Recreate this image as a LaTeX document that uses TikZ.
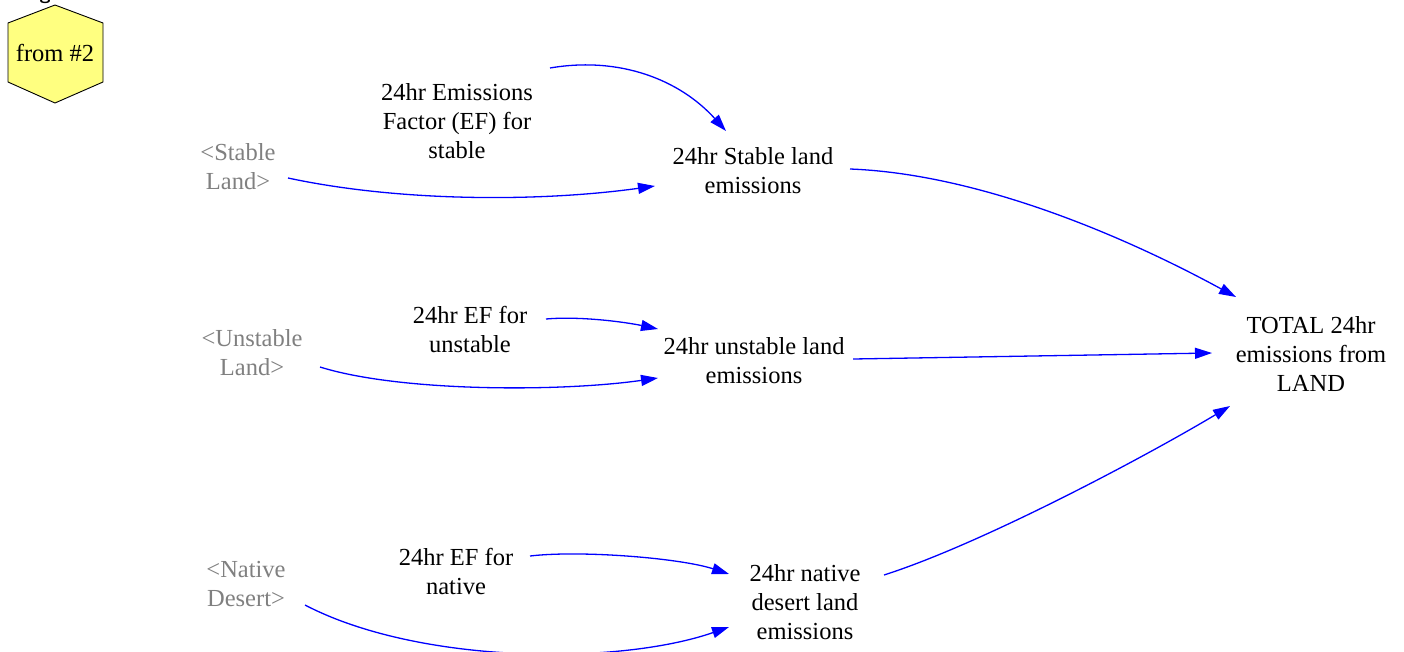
\documentclass[tikz,border=0pt]{standalone}
\usepackage{fontspec}
\setmainfont{Liberation Serif}
\usetikzlibrary{arrows.meta,calc}
\definecolor{linkblue}{RGB}{0,0,255}
\definecolor{shadowgray}{RGB}{128,128,128}
\definecolor{hexyellow}{RGB}{255,255,128}
\begin{document}
\begin{tikzpicture}[x=1pt,y=-1pt,
  every node/.style={font=\fontsize{24.5}{29}\selectfont, align=center, inner sep=0pt},
  var/.style={text=black},
  shadowvar/.style={text=shadowgray},
  link/.style={draw=linkblue, line width=1.3pt, -{Triangle[length=17pt,width=11pt]}},
]
\useasboundingbox (0,0) rectangle (1404,651);
\clip (0,0) rectangle (1404,651);

% partly hidden heading above the hexagon
\node[anchor=base, font=\sffamily\bfseries\fontsize{20}{24}\selectfont] (head) at (45,-1) {g};

% page connector hexagon
\draw[fill=hexyellow, line width=0.9pt] (55,5) -- (103,23) -- (103,82) -- (55,103) -- (8,82) -- (8,23) -- cycle;
\node[var] (fr) at (55,53) {from \#2};

% variables
\node[shadowvar] (sl)  at (238,167) {<Stable\\Land>};
\node[var]       (efs) at (457,121) {24hr Emissions\\Factor (EF) for\\stable};
\node[var]       (sle) at (753,171) {24hr Stable land\\emissions};

\node[shadowvar] (ul)  at (252,353) {<Unstable\\Land>};
\node[var]       (efu) at (470,329) {24hr EF for\\unstable};
\node[var]       (ule) at (754,361) {24hr unstable land\\emissions};

\node[var]       (tot) at (1311,354) {TOTAL 24hr\\emissions from\\LAND};

\node[shadowvar] (nd)  at (246,584) {<Native\\Desert>};
\node[var]       (efn) at (456,571) {24hr EF for\\native};
\node[var]       (nde) at (805,602) {24hr native\\desert land\\emissions};

% links
\draw[link] ($(efs)+(93,-53)$) .. controls +(70,-12) and +(-46,-51) .. ($(sle)+(-27,-40)$);
\draw[link] ($(sl)+(50,11)$) .. controls +(112,24) and +(-115,16) .. ($(sle)+(-98,15)$);
\draw[link] ($(sle)+(97,-2)$) .. controls +(130,5) and +(-110,-60) .. ($(tot)+(-75,-57)$);

\draw[link] ($(efu)+(76,-10)$) .. controls +(34,-3) and +(-33,-7) .. ($(ule)+(-96,-32)$);
\draw[link] ($(ul)+(68,14)$) .. controls +(80,25) and +(-98,14) .. ($(ule)+(-96,17)$);
\draw[link] ($(ule)+(99,-2)$) -- ($(tot)+(-99,-1)$);

\draw[link] ($(nde)+(79,-27)$) .. controls +(100,-32) and +(-80,48) .. ($(tot)+(-81,52)$);
\draw[link] ($(efn)+(74,-15)$) .. controls +(50,-6) and +(-49,-16) .. ($(nde)+(-76,-28)$);
\draw[link] ($(nd)+(59,21)$) .. controls +(115,60) and +(-109,38) .. ($(nde)+(-76,25)$);
\end{tikzpicture}
\end{document}
